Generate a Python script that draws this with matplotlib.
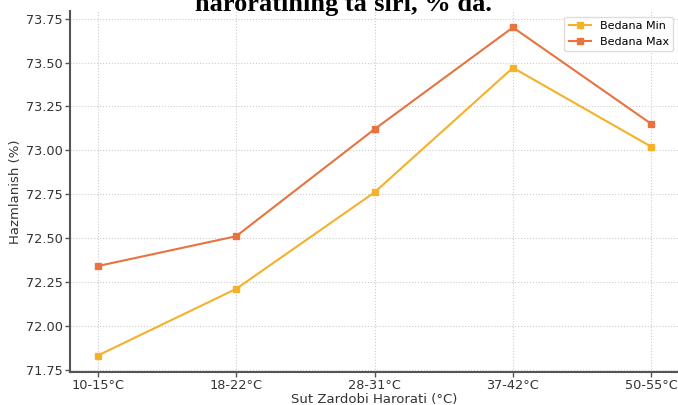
import matplotlib.pyplot as plt

# data
categories = ['10-15°C', '18-22°C', '28-31°C', '37-42°C', '50-55°C']
bedana_min = [71.83, 72.21, 72.76, 73.47, 73.02]
bedana_max = [72.34, 72.51, 73.12, 73.70, 73.15]

fig = plt.figure(figsize=(6.78, 4.05), dpi=100)
ax = fig.add_axes([70 / 678, 33 / 405, 609 / 678, 361 / 405])

x = range(len(categories))
ax.plot(x, bedana_min, marker='s', markersize=4.5, linewidth=1.5, color='#F4B12A', label='Bedana Min')
ax.plot(x, bedana_max, marker='s', markersize=4.5, linewidth=1.5, color='#E8733F', label='Bedana Max')

ax.set_xticks(list(x))
ax.set_xticklabels(categories)
ax.set_yticks([71.75, 72.0, 72.25, 72.5, 72.75, 73.0, 73.25, 73.5, 73.75])
ax.yaxis.set_major_formatter(plt.FormatStrFormatter('%.2f'))
ax.tick_params(labelsize=9.3, labelcolor='#333333', colors='#555555', length=3.5, width=1)
ax.tick_params(axis='x', pad=1.5)
ax.tick_params(axis='y', pad=1.5)

ax.set_xlabel('Sut Zardobi Harorati (°C)', fontsize=9.5, color='#333333', labelpad=0.5)
ax.set_ylabel('Hazmlanish (%)', fontsize=9.5, color='#333333', labelpad=3)

ax.grid(True, linestyle=':', color='#cccccc', linewidth=0.8)
for side in ['top', 'right']:
    ax.spines[side].set_visible(False)
for side in ['left', 'bottom']:
    ax.spines[side].set_color('#555555')
    ax.spines[side].set_linewidth(1.5)

ax.legend(loc='upper right', fontsize=8, framealpha=1, edgecolor='#dddddd')

# title cut off at the top of the picture (only its lower part shows in the reference)
fig.text(0.507, 1 - 11 / 405, "haroratining ta'siri, % da.", ha='center', va='baseline',
         fontsize=19, fontweight='bold', family='Liberation Serif')

fig.savefig('out.png', dpi=100)
